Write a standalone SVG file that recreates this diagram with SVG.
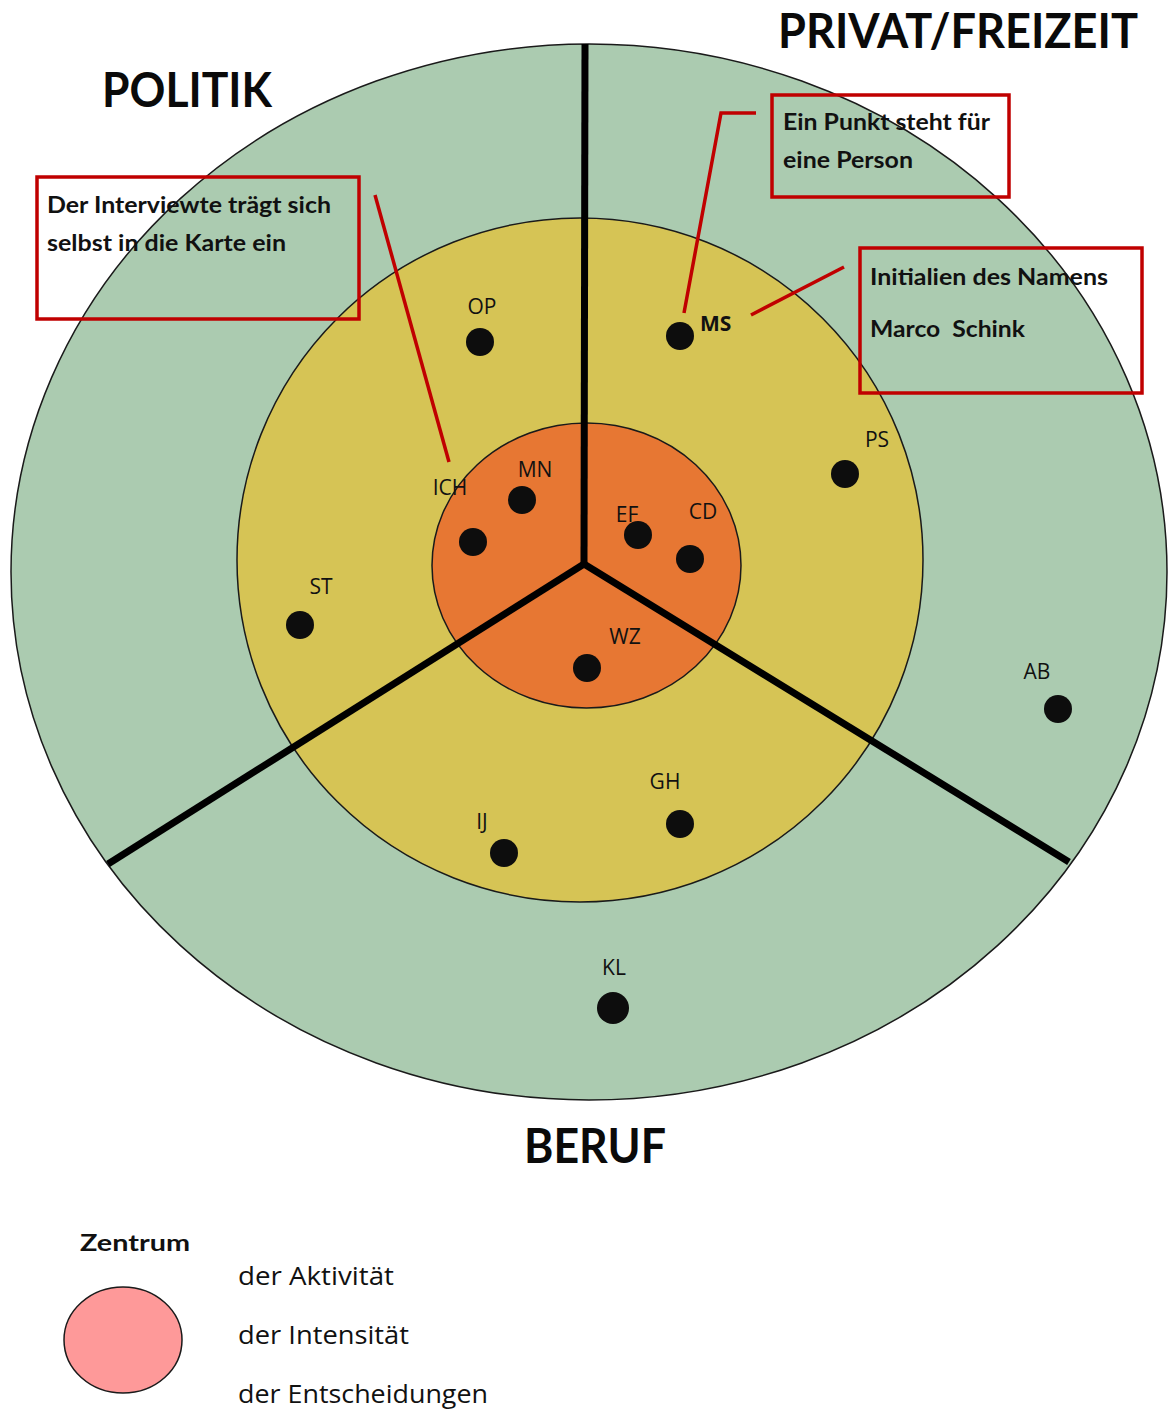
<svg xmlns="http://www.w3.org/2000/svg" width="1168" height="1409" viewBox="0 0 1168 1409">
<style>
.ring{stroke:#1a1a1a;stroke-width:1.5}
.dot{fill:#0d0d0d}
.lbl{font-family:"Open Sans","Noto Sans",sans-serif;font-size:21px;fill:#111}
.title{font-family:Lato,"Liberation Sans",sans-serif;font-weight:bold;font-size:47px;fill:#0a0a0a}
.note{font-family:Lato,"Liberation Sans",sans-serif;font-weight:bold;font-size:23px;fill:#111;white-space:pre}
.leg{font-family:"Open Sans","Noto Sans",sans-serif;font-size:25px;fill:#111}
.box{fill:none;stroke:#C00000;stroke-width:3.5}
.ptr{fill:none;stroke:#C00000;stroke-width:3.5}
.spoke{stroke:#000;stroke-width:7;stroke-linecap:butt}
</style>
<rect width="1168" height="1409" fill="#fff"/>
<g id="rings">
<ellipse id="outer" class="ring" cx="589" cy="572" rx="578" ry="528" fill="#ABCBB0"/>
<ellipse id="middle" class="ring" cx="580" cy="560" rx="343" ry="342" fill="#D6C455"/>
<ellipse id="inner" class="ring" cx="586.5" cy="565.5" rx="154.5" ry="142.5" fill="#E77733"/>
</g>
<g id="spokes">
<line class="spoke" x1="584" y1="564" x2="585" y2="44"/>
<line class="spoke" x1="584" y1="564" x2="108" y2="864"/>
<line class="spoke" x1="584" y1="564" x2="1069" y2="862"/>
</g>
<g id="titles">
<text class="title" x="102" y="107" textLength="170" lengthAdjust="spacingAndGlyphs">POLITIK</text>
<text class="title" x="778" y="48" textLength="360" lengthAdjust="spacingAndGlyphs">PRIVAT/FREIZEIT</text>
<text class="title" x="524" y="1163" textLength="142" lengthAdjust="spacingAndGlyphs">BERUF</text>
</g>
<g id="persons">
<g id="p-OP"><circle class="dot" cx="480" cy="342" r="14"/><text class="lbl" x="482" y="314" text-anchor="middle">OP</text></g>
<g id="p-MS"><circle class="dot" cx="680" cy="336" r="14"/><text class="lbl" x="700" y="331" font-weight="bold">MS</text></g>
<g id="p-PS"><circle class="dot" cx="845" cy="474" r="14"/><text class="lbl" x="877" y="447" text-anchor="middle">PS</text></g>
<g id="p-ICH"><circle class="dot" cx="473" cy="542" r="14"/><text class="lbl" x="450" y="495" text-anchor="middle">ICH</text></g>
<g id="p-MN"><circle class="dot" cx="522" cy="500" r="14"/><text class="lbl" x="535" y="477" text-anchor="middle">MN</text></g>
<g id="p-EF"><circle class="dot" cx="638" cy="535" r="14"/><text class="lbl" x="627" y="522" text-anchor="middle">EF</text></g>
<g id="p-CD"><circle class="dot" cx="690" cy="559" r="14"/><text class="lbl" x="703" y="519" text-anchor="middle">CD</text></g>
<g id="p-ST"><circle class="dot" cx="300" cy="625" r="14"/><text class="lbl" x="321" y="594" text-anchor="middle">ST</text></g>
<g id="p-WZ"><circle class="dot" cx="587" cy="668" r="14"/><text class="lbl" x="625" y="644" text-anchor="middle">WZ</text></g>
<g id="p-AB"><circle class="dot" cx="1058" cy="709" r="14"/><text class="lbl" x="1037" y="679" text-anchor="middle">AB</text></g>
<g id="p-GH"><circle class="dot" cx="680" cy="824" r="14"/><text class="lbl" x="665" y="789" text-anchor="middle">GH</text></g>
<g id="p-IJ"><circle class="dot" cx="504" cy="853" r="14"/><text class="lbl" x="482" y="829" text-anchor="middle">IJ</text></g>
<g id="p-KL"><circle class="dot" cx="613" cy="1008" r="16"/><text class="lbl" x="614" y="975" text-anchor="middle">KL</text></g>
</g>
<g id="connectors">
<line class="ptr" x1="375" y1="195" x2="449" y2="462"/>
<polyline class="ptr" points="756,113 721,113 684,313"/>
<line class="ptr" x1="751" y1="315" x2="844" y2="267"/>
</g>
<g id="note-self">
<rect class="box" x="37" y="177" width="322" height="142"/>
<text class="note" x="47" y="213" textLength="284" lengthAdjust="spacingAndGlyphs">Der Interviewte trägt sich</text>
<text class="note" x="47" y="251" textLength="239" lengthAdjust="spacingAndGlyphs">selbst in die Karte ein</text>
</g>
<g id="note-point">
<rect class="box" x="772" y="95" width="237" height="102"/>
<text class="note" x="783" y="130" textLength="207" lengthAdjust="spacingAndGlyphs">Ein Punkt steht für</text>
<text class="note" x="783" y="168" textLength="130" lengthAdjust="spacingAndGlyphs">eine Person</text>
</g>
<g id="note-initials">
<rect class="box" x="860" y="248" width="282" height="145"/>
<text class="note" x="870" y="285" textLength="238" lengthAdjust="spacingAndGlyphs">Initialien des Namens</text>
<text class="note" x="870" y="337" textLength="155" lengthAdjust="spacingAndGlyphs">Marco  Schink</text>
</g>
<g id="legend">
<text class="note" x="80" y="1251" font-size="26" textLength="110" lengthAdjust="spacingAndGlyphs">Zentrum</text>
<ellipse cx="123" cy="1340" rx="59" ry="53" fill="#FE9999" stroke="#1a1a1a" stroke-width="1.5"/>
<text class="leg" x="238" y="1285" textLength="156" lengthAdjust="spacingAndGlyphs">der Aktivität</text>
<text class="leg" x="238" y="1344" textLength="171" lengthAdjust="spacingAndGlyphs">der Intensität</text>
<text class="leg" x="238" y="1403" textLength="250" lengthAdjust="spacingAndGlyphs">der Entscheidungen</text>
</g>
</svg>
